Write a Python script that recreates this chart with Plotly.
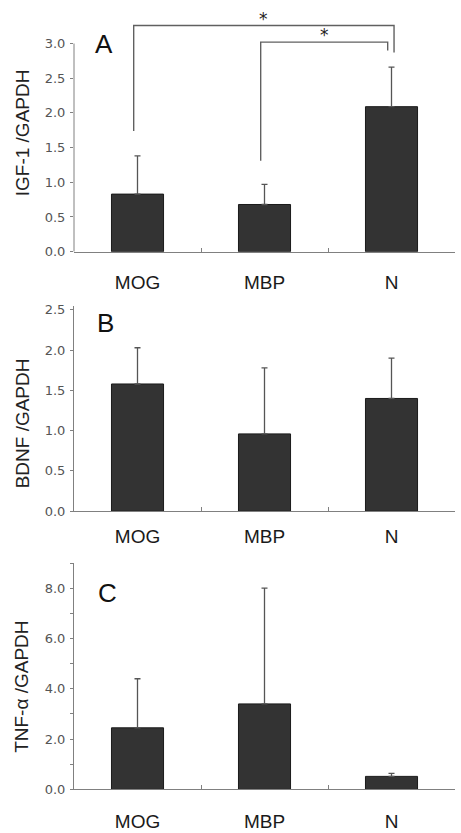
import plotly.graph_objects as go

categories = ["MOG", "MBP", "N"]
igf1_mean = [0.83, 0.68, 2.09]
igf1_err = [0.55, 0.29, 0.57]
bdnf_mean = [1.58, 0.96, 1.40]
bdnf_err = [0.45, 0.82, 0.50]
tnf_mean = [2.45, 3.40, 0.52]
tnf_err = [1.95, 4.60, 0.12]

igf_ticks = [0.0, 0.5, 1.0, 1.5, 2.0, 2.5, 3.0]
bdnf_ticks = [0.0, 0.5, 1.0, 1.5, 2.0, 2.5]
tnf_ticks = [0.0, 2.0, 4.0, 6.0, 8.0]

# significance brackets: (left x, right x, top value, left leg bottom, right leg bottom)
sig_brackets = [(-0.03, 2.02, 3.26, 1.74, 2.87), (0.97, 1.97, 3.02, 1.31, 2.90)]

W, H = 461, 833
FONT = "Liberation Sans, Arial, sans-serif"
TFONT = "DejaVu Sans, sans-serif"
BAR = "#333333"
AX = "#808080"

def fx(px):
    return px / W

def fy(py):
    return (H - py) / H

fig = go.Figure()
panels = [
    (igf1_mean, igf1_err, "x", "y"),
    (bdnf_mean, bdnf_err, "x2", "y2"),
    (tnf_mean, tnf_err, "x3", "y3"),
]
for mean, err, xa, ya in panels:
    fig.add_trace(go.Bar(
        x=categories, y=mean, xaxis=xa, yaxis=ya,
        width=0.41,
        marker=dict(color=BAR, line=dict(color="#1a1a1a", width=1)),
        error_y=dict(type="data", array=err, arrayminus=[0] * len(err), symmetric=False,
                     color="#555555", thickness=1.3, width=3),
        showlegend=False,
    ))

xdom = [fx(74), fx(455)]
xcommon = dict(domain=xdom, range=[-0.5, 2.5], showline=True, linecolor=AX, linewidth=1,
               ticks="inside", ticklen=4, tickcolor=AX, tickson="boundaries",
               tickfont=dict(family=FONT, size=19, color="#1a1a1a"), showgrid=False,
               zeroline=False, fixedrange=True)
ycommon = dict(showgrid=False, zeroline=False, ticks="outside", ticklen=3, tickcolor=AX,
               tickformat=".1f", tickfont=dict(family=TFONT, size=13, color="#555555"),
               ticklabelstandoff=2, fixedrange=True)

# pixel anchors for each panel: zero line y and px per unit
A0, B0, C0 = 252, 515, 797
A_u, B_u, C_u = 70.3, 81.6, 25.5

fig.update_layout(
    width=W, height=H, margin=dict(l=0, r=0, t=0, b=0),
    paper_bgcolor="white", plot_bgcolor="white",
    xaxis=dict(**xcommon, anchor="y", ticklabelstandoff=14),
    xaxis2=dict(**xcommon, anchor="y2", ticklabelstandoff=8),
    xaxis3=dict(**xcommon, anchor="y3", ticklabelstandoff=15),
    yaxis=dict(**ycommon, anchor="x", domain=[fy(A0), fy(A0 - 3.35 * A_u)], range=[0, 3.35],
               tickvals=igf_ticks, showline=False),
    yaxis2=dict(**ycommon, anchor="x2", domain=[fy(B0), fy(B0 - 2.55 * B_u)], range=[0, 2.55],
                tickvals=bdnf_ticks, showline=True, linecolor=AX, linewidth=1),
    yaxis3=dict(**ycommon, anchor="x3", domain=[fy(C0), fy(C0 - 9.0 * C_u)], range=[0, 9.0],
                tickvals=tnf_ticks, showline=True, linecolor=AX, linewidth=1,
                minor=dict(dtick=1, ticks="outside", ticklen=3, tickcolor=AX)),
)

# y axis line for panel A (only up to 3.0)
fig.add_shape(type="line", xref="x domain", yref="y", x0=0, x1=0, y0=0, y1=max(igf_ticks),
              line=dict(color=AX, width=1))

# significance brackets
for lx, rx, top, lb, rb in sig_brackets:
    fig.add_shape(type="path", xref="x", yref="y",
                  path=f"M {lx},{lb} L {lx},{top} L {rx},{top} L {rx},{rb}",
                  line=dict(color="#606060", width=1.4))
    fig.add_annotation(x=(lx + rx) / 2, y=top, xref="x", yref="y", text="*", showarrow=False,
                       yshift=7, font=dict(family=TFONT, size=17, color="#222222"))

# panel letters
letters = [("A", "x", "y", -0.26, 3.0), ("B", "x2", "y2", -0.25, 2.34), ("C", "x3", "y3", -0.24, 7.8)]
for t, xa, ya, xv, yv in letters:
    fig.add_annotation(x=xv, y=yv, xref=xa, yref=ya, text=t, showarrow=False,
                       font=dict(family=FONT, size=26, color="#111111"),
                       xanchor="center", yanchor="middle")

# y axis titles
titles = [("IGF-1 /GAPDH", 132), ("BDNF /GAPDH", 426), ("TNF-α /GAPDH", 693)]
for t, py in titles:
    fig.add_annotation(x=fx(22), y=fy(py), xref="paper", yref="paper", text=t, textangle=-90,
                       showarrow=False, font=dict(family=FONT, size=19, color="#222222"),
                       xanchor="center", yanchor="middle")

fig.write_html("out.html", config={"displayModeBar": False},
               post_script="document.body.style.margin='0';document.body.style.overflow='hidden';")
